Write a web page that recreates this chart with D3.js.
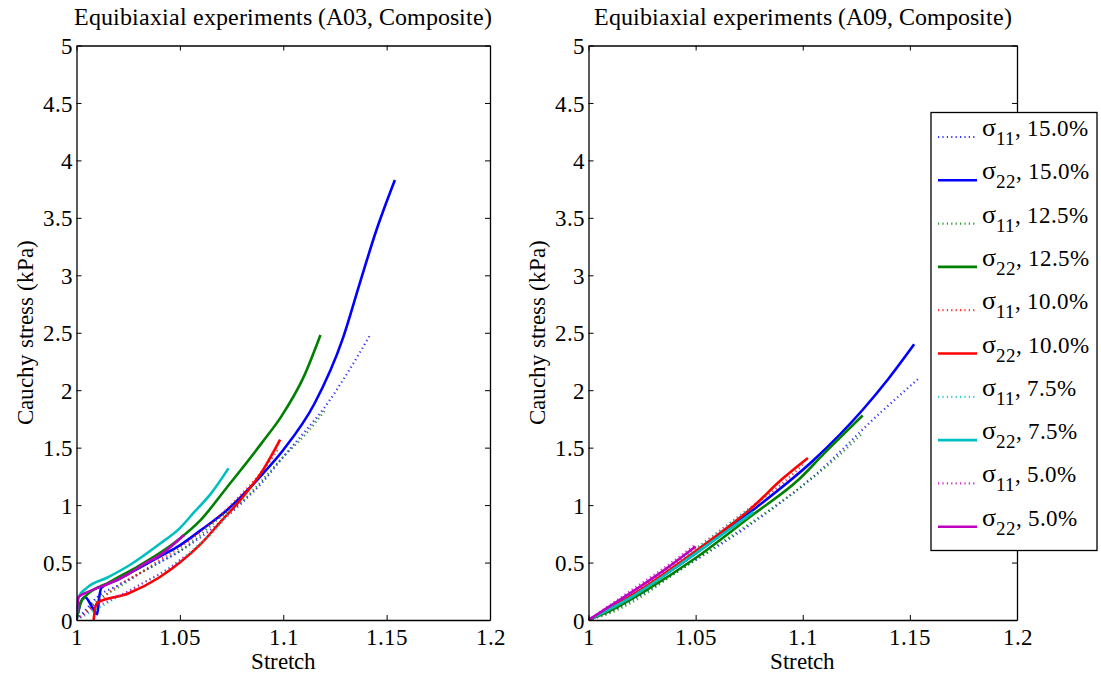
<!DOCTYPE html>
<html><head><meta charset="utf-8">
<script src="https://cdn.jsdelivr.net/npm/d3@7"></script>
<style>
@font-face{font-family:"ChartSerif";src:local("Liberation Serif"),local("LiberationSerif"),local("LiberationSerif-Regular");}
body{margin:0;background:#fff}svg{display:block}
</style>
</head><body>
<svg id="c" width="1101" height="679"></svg>
<script>
const xTicks=[1,1.05,1.1,1.15,1.2];
const yTicks=[0,0.5,1,1.5,2,2.5,3,3.5,4,4.5,5];
const seriesNames=["σ11, 15.0%","σ22, 15.0%","σ11, 12.5%","σ22, 12.5%","σ11, 10.0%","σ22, 10.0%","σ11, 7.5%","σ22, 7.5%","σ11, 5.0%","σ22, 5.0%"];
const seriesColors=["#0000ff","#0000ff","#008000","#008000","#ff0000","#ff0000","#00bfbf","#00bfbf","#bf00bf","#bf00bf"];
// A03 data [stretch, stress]
const a03_s11_15=[[1,0],[1.005,0.1],[1.01,0.2],[1.02,0.3],[1.03,0.4],[1.04,0.5],[1.05,0.6],[1.06,0.72],[1.07,0.86],[1.08,1.02],[1.09,1.2],[1.1,1.42],[1.11,1.63],[1.12,1.85],[1.13,2.12],[1.142,2.48]];
const a03_s22_15=[[1,0],[1.002,0.15],[1.004,0.2],[1.008,0.1],[1.010,0.05],[1.011,0.2],[1.012,0.28],[1.02,0.35],[1.03,0.45],[1.04,0.55],[1.05,0.65],[1.06,0.78],[1.073,0.96],[1.08,1.08],[1.09,1.27],[1.1,1.48],[1.115,1.88],[1.129,2.46],[1.137,2.93],[1.145,3.39],[1.154,3.83]];
const a03_s11_125=[[1,0],[1.005,0.08],[1.01,0.17],[1.02,0.28],[1.031,0.41],[1.04,0.5],[1.05,0.6],[1.06,0.74],[1.068,0.87],[1.08,1.03],[1.09,1.22],[1.1,1.42],[1.11,1.6],[1.12,1.82]];
const a03_s22_125=[[1,0],[1.002,0.15],[1.004,0.2],[1.016,0.33],[1.03,0.47],[1.04,0.58],[1.05,0.71],[1.06,0.87],[1.073,1.16],[1.09,1.55],[1.099,1.77],[1.11,2.12],[1.118,2.48]];
const a03_s11_10=[[1,0],[1.01,0.15],[1.02,0.3],[1.03,0.4],[1.04,0.52],[1.05,0.63],[1.06,0.77],[1.07,0.92],[1.08,1.1],[1.09,1.3],[1.098,1.5]];
const a03_s22_10=[[1.0083,0],[1.009,0.1],[1.01,0.15],[1.025,0.23],[1.04,0.37],[1.05,0.5],[1.06,0.66],[1.07,0.86],[1.08,1.06],[1.09,1.3],[1.0985,1.57]];
const a03_s11_75=[[1,0],[1.01,0.1],[1.02,0.2],[1.03,0.3],[1.04,0.4],[1.05,0.52],[1.06,0.67],[1.068,0.8],[1.074,0.95]];
const a03_s22_75=[[1,0],[1.001,0.2],[1.005,0.28],[1.015,0.37],[1.025,0.47],[1.04,0.66],[1.05,0.8],[1.057,0.94],[1.065,1.1],[1.0735,1.32]];
const a03_s11_5=[[1,0],[1.008,0.1],[1.016,0.17],[1.025,0.25],[1.035,0.35],[1.045,0.45],[1.052,0.55]];
const a03_s22_5=[[1,0],[1.001,0.2],[1.005,0.24],[1.016,0.32],[1.025,0.4],[1.033,0.49],[1.04,0.56],[1.052,0.74]];
// A09 data
const a09_s11_15=[[1,0],[1.01,0.07],[1.02,0.17],[1.043,0.44],[1.074,0.81],[1.105,1.25],[1.136,1.8],[1.154,2.1]];
const a09_s22_15=[[1,0],[1.01,0.1],[1.027,0.29],[1.05,0.58],[1.077,0.96],[1.105,1.39],[1.128,1.83],[1.14,2.1],[1.152,2.4]];
const a09_s11_125=[[1,0],[1.01,0.06],[1.02,0.15],[1.04,0.4],[1.06,0.65],[1.08,0.9],[1.1,1.17],[1.115,1.4],[1.1276,1.62]];
const a09_s22_125=[[1,0],[1.01,0.08],[1.027,0.26],[1.05,0.54],[1.077,0.92],[1.098,1.22],[1.11,1.45],[1.128,1.78]];
const a09_s11_10=[[1,0],[1.02,0.22],[1.05,0.62],[1.075,0.97],[1.09,1.18],[1.1,1.35]];
const a09_s22_10=[[1,0],[1.02,0.21],[1.05,0.6],[1.077,0.99],[1.09,1.22],[1.1024,1.41]];
const a09_s11_75=[[1,0],[1.02,0.24],[1.05,0.62],[1.075,0.97]];
const a09_s22_75=[[1,0],[1.02,0.2],[1.05,0.58],[1.077,0.94]];
const a09_s11_5=[[1,0],[1.01,0.13],[1.02,0.26],[1.035,0.45],[1.05,0.66]];
const a09_s22_5=[[1,0],[1.01,0.12],[1.02,0.24],[1.035,0.43],[1.05,0.64]];

const panels=[
 {title:"Equibiaxial experiments (A03, Composite)",x0:76.5,x1:490,data:[a03_s11_15,a03_s22_15,a03_s11_125,a03_s22_125,a03_s11_10,a03_s22_10,a03_s11_75,a03_s22_75,a03_s11_5,a03_s22_5]},
 {title:"Equibiaxial experiments (A09, Composite)",x0:588.5,x1:1017,data:[a09_s11_15,a09_s22_15,a09_s11_125,a09_s22_125,a09_s11_10,a09_s22_10,a09_s11_75,a09_s22_75,a09_s11_5,a09_s22_5]}
];
const svg=d3.select("#c");
const yTop=45.5,yBot=620;
const fmt=d=>String(d);
function txt(sel,size){return sel.style("font-family",'"ChartSerif", "Liberation Serif"').attr("font-size",size).attr("fill","#000");}
panels.forEach((p,pi)=>{
  const x=d3.scaleLinear().domain([1,1.2]).range([p.x0,p.x1]);
  const y=d3.scaleLinear().domain([0,5]).range([yBot,yTop]);
  const g=svg.append("g");
  const clip="clip"+pi;
  svg.append("clipPath").attr("id",clip).append("rect").attr("x",p.x0).attr("y",yTop).attr("width",p.x1-p.x0).attr("height",yBot-yTop);
  const line=d3.line().x(d=>x(d[0])).y(d=>y(d[1])).curve(d3.curveMonotoneX);
  const lines=g.append("g").attr("clip-path",`url(#${clip})`);
  p.data.forEach((s,i)=>{
    const dotted=i%2===0;
    lines.append("path").attr("d",line(s)).attr("fill","none")
      .attr("stroke",seriesColors[i]).attr("stroke-width",dotted?2.2:2.6)
      .attr("stroke-dasharray",dotted?"1.2,3.2":null).attr("opacity",dotted?0.8:1);
  });
  const ax=[
    {a:d3.axisBottom(x).tickValues(xTicks).tickFormat(fmt).tickSizeInner(-5).tickSizeOuter(0),t:`translate(0,${yBot})`},
    {a:d3.axisTop(x).tickValues(xTicks).tickFormat("").tickSizeInner(-5).tickSizeOuter(0),t:`translate(0,${yTop})`},
    {a:d3.axisLeft(y).tickValues(yTicks).tickFormat(fmt).tickSizeInner(-5).tickSizeOuter(0),t:`translate(${p.x0},0)`},
    {a:d3.axisRight(y).tickValues(yTicks).tickFormat("").tickSizeInner(-5).tickSizeOuter(0),t:`translate(${p.x1},0)`}
  ];
  ax.forEach((o,k)=>{
    const ag=g.append("g").attr("transform",o.t).call(o.a);
    ag.attr("font-family",null).attr("font-size",null);
    ag.select(".domain").attr("stroke","#000").attr("stroke-width",1.3);
    ag.selectAll(".tick line").attr("stroke","#000").attr("stroke-width",1);
    txt(ag.selectAll("text"),23);
    if(k===0) ag.selectAll("text").attr("dy","0").attr("y",25);
    if(k===2) ag.selectAll("text").attr("x",-4).attr("dy","0.35em");
  });
  txt(g.append("text").attr("x",(p.x0+p.x1)/2).attr("y",25).attr("text-anchor","middle"),23.5).text(p.title);
  txt(g.append("text").attr("x",(p.x0+p.x1)/2).attr("y",669).attr("text-anchor","middle"),23).text("Stretch");
  txt(g.append("text").attr("transform",`translate(${p.x0-44},${(yTop+yBot)/2}) rotate(-90)`).attr("text-anchor","middle"),23).text("Cauchy stress (kPa)");
});
const lg=svg.append("g");
lg.append("rect").attr("x",931).attr("y",112.5).attr("width",166).attr("height",438).attr("fill","#fff").attr("stroke","#000").attr("stroke-width",1.3);
seriesNames.forEach((n,i)=>{
  const yy=137+i*43.3;
  const dotted=i%2===0;
  lg.append("line").attr("x1",938).attr("x2",977).attr("y1",yy).attr("y2",yy)
    .attr("stroke",seriesColors[i]).attr("stroke-width",dotted?2.2:2.6)
    .attr("stroke-dasharray",dotted?"1.2,3.2":null).attr("opacity",dotted?0.8:1);
  const m=n.match(/^(σ)(\d+)(, .*)$/);
  const t=txt(lg.append("text").attr("x",982).attr("y",yy-1),26);
  t.append("tspan").text(m[1]);
  t.append("tspan").attr("dy",9).attr("font-size",19).text(m[2]);
  t.append("tspan").attr("dy",-9).attr("font-size",23).text(m[3]);
});
</script>
</body></html>
